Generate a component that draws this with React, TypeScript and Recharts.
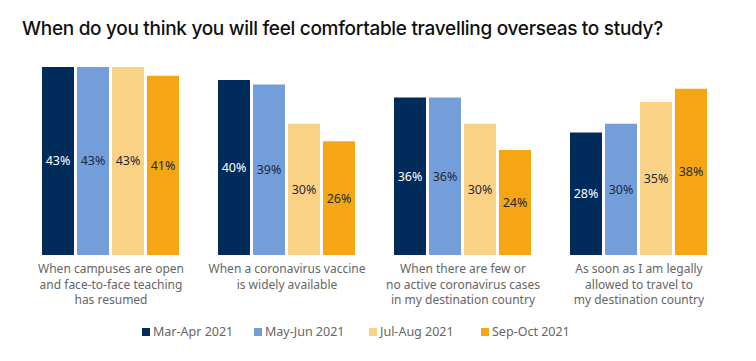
import { BarChart, Bar, XAxis, YAxis, LabelList } from "recharts";

const categories = [
  "When campuses are open|and face-to-face teaching|has resumed",
  "When a coronavirus vaccine|is widely available",
  "When there are few or|no active coronavirus cases|in my destination country",
  "As soon as I am legally|allowed to travel to|my destination country",
];

const marApr = [43, 40, 36, 28];
const mayJun = [43, 39, 36, 30];
const julAug = [43, 30, 30, 35];
const sepOct = [41, 26, 24, 38];

const seriesNames = ["Mar-Apr 2021", "May-Jun 2021", "Jul-Aug 2021", "Sep-Oct 2021"];
const colors = ["#002b5a", "#739ed9", "#fad286", "#f6a614"];
const labelColors = ["#ffffff", "#1f2a3a", "#1f2a3a", "#1f2a3a"];

const data = categories.map((c, i) => ({
  name: c,
  s0: marApr[i],
  s1: mayJun[i],
  s2: julAug[i],
  s3: sepOct[i],
}));

const FONT = "'Noto Sans', Roboto, sans-serif";

function CategoryTick(props: any) {
  const { x, y, payload } = props;
  const lines = String(payload.value).split("|");
  return (
    <text x={x} y={y} textAnchor="middle" fill="#666666" fontSize={12} fontFamily={FONT}>
      {lines.map((l, i) => (
        <tspan key={i} x={x} dy={i === 0 ? 16 : 15.5}>
          {l}
        </tspan>
      ))}
    </text>
  );
}

export default function App() {
  return (
    <div style={{ position: "absolute", left: 0, top: 0, width: 756, height: 361, background: "#fff" }}>
      <div
        style={{
          position: "absolute",
          left: 22,
          top: 17,
          fontFamily: "Inter, 'Noto Sans', sans-serif",
          fontSize: 19,
          fontWeight: 500,
          color: "#111",
          letterSpacing: -0.3,
        }}
      >
        When do you think you will feel comfortable travelling overseas to study?
      </div>
      <BarChart
        width={756}
        height={361}
        data={data}
        margin={{ top: 67, right: 29, left: 23, bottom: 48 }}
        barCategoryGap={19}
        barGap={3}
      >
        <XAxis
          dataKey="name"
          axisLine={false}
          tickLine={false}
          tickSize={0}
          tick={<CategoryTick />}
          interval={0}
          height={58}
        />
        <YAxis hide domain={[0, 43]} />
        {["s0", "s1", "s2", "s3"].map((k, i) => (
          <Bar key={k} dataKey={k} name={seriesNames[i]} fill={colors[i]} isAnimationActive={false}>
            <LabelList
              dataKey={k}
              position="center"
              formatter={(v: any) => `${v}%`}
              fill={labelColors[i]}
              fontSize={12.5}
              fontFamily={FONT}
            />
          </Bar>
        ))}
      </BarChart>
      <div
        style={{
          position: "absolute",
          left: 142,
          top: 323,
          display: "flex",
          fontFamily: FONT,
          fontSize: 12.5,
          color: "#666",
        }}
      >
        {seriesNames.map((n, i) => (
          <div key={n} style={{ display: "flex", alignItems: "center", width: i === 3 ? 100 : [112, 115, 112][i] }}>
            <span style={{ width: 8, height: 8, background: colors[i], display: "inline-block", marginRight: 3 }} />
            {n}
          </div>
        ))}
      </div>
    </div>
  );
}
